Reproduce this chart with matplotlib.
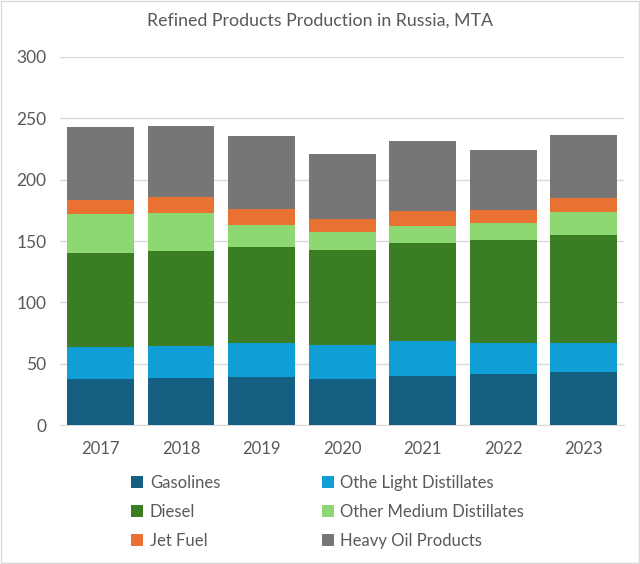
import numpy as np
import matplotlib
matplotlib.use("Agg")
import matplotlib.pyplot as plt
from matplotlib.patches import Rectangle

plt.rcParams['font.family'] = ['Lato', 'DejaVu Sans']

years = ['2017', '2018', '2019', '2020', '2021', '2022', '2023']
gasolines = [37.5, 38.6, 39.4, 37.8, 40.2, 41.8, 43.5]
light_dist = [26.3, 25.8, 27.4, 27.2, 28.3, 24.8, 23.3]
diesel = [76.7, 77.7, 78.3, 77.7, 80.1, 84.2, 87.8]
medium_dist = [31.2, 30.9, 17.9, 14.9, 13.9, 13.6, 19.3]
jet_fuel = [11.7, 12.9, 12.8, 10.3, 11.7, 11.1, 11.1]
heavy_oil = [59.8, 58.1, 59.5, 53.3, 57.1, 48.9, 51.7]

series = [
    ('Gasolines', gasolines, '#156082'),
    ('Othe Light Distillates', light_dist, '#0F9ED5'),
    ('Diesel', diesel, '#3B7D23'),
    ('Other Medium Distillates', medium_dist, '#8ED873'),
    ('Jet Fuel', jet_fuel, '#E97132'),
    ('Heavy Oil Products', heavy_oil, '#767676'),
]

fig = plt.figure(figsize=(6.4, 5.64), dpi=100)
ax = fig.add_axes([0.094, 0.246, 0.881, 0.653])

x = np.arange(len(years))
bottom = np.zeros(len(years))
handles = {}
for name, vals, col in series:
    b = ax.bar(x, vals, width=0.83, bottom=bottom, color=col, label=name, zorder=3)
    handles[name] = b
    bottom += np.array(vals)

ax.set_xlim(-0.5, len(years) - 0.5)
ax.set_ylim(0, 300)
ax.set_yticks(range(0, 301, 50))
ax.set_xticks(x)
ax.set_xticklabels(years)
ax.grid(axis='y', color='#D9D9D9', linewidth=1, zorder=0)
for s in ['top', 'right', 'left']:
    ax.spines[s].set_visible(False)
ax.spines['bottom'].set_color('#D9D9D9')
ax.tick_params(axis='y', length=0, labelsize=12.5, labelcolor='#595959', pad=10)
ax.tick_params(axis='x', length=0, labelsize=12, labelcolor='#595959', pad=11)

fig.text(0.5, 0.963, 'Refined Products Production in Russia, MTA',
         ha='center', va='center', fontsize=12.8, color='#595959')

# legend fills column by column, so order the handles to read row-wise
order = ['Gasolines', 'Diesel', 'Jet Fuel',
         'Othe Light Distillates', 'Other Medium Distillates', 'Heavy Oil Products']
leg = fig.legend([handles[n] for n in order], order, ncol=2,
                 loc='upper left', bbox_to_anchor=(0.195, 0.170),
                 frameon=False, fontsize=12, handlelength=0.7, handleheight=0.7,
                 handletextpad=0.4, columnspacing=6.1, labelspacing=0.78,
                 borderaxespad=0)
for t in leg.get_texts():
    t.set_color('#595959')

fig.patches.append(Rectangle((0.001, 0.001), 0.997, 0.997, transform=fig.transFigure,
                             fill=False, edgecolor='#D9D9D9', linewidth=1))

fig.savefig('out.png', dpi=100)
